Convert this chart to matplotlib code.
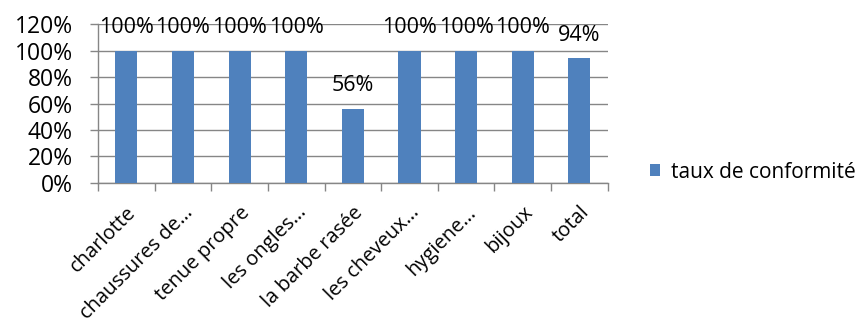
import matplotlib
matplotlib.use("Agg")
import matplotlib.pyplot as plt
import numpy as np
from matplotlib.ticker import PercentFormatter, FixedLocator

categories = ["charlotte", "chaussures de…", "tenue propre", "les ongles…",
              "la barbe rasée", "les cheveux…", "hygiene…", "bijoux", "total"]
taux = [1.00, 1.00, 1.00, 1.00, 0.56, 1.00, 1.00, 1.00, 0.94]
series_name = "taux de conformité"
y_ticks = [0, 0.2, 0.4, 0.6, 0.8, 1.0, 1.2]

plt.rcParams["font.family"] = ["Open Sans", "DejaVu Sans"]
bar_color = "#4F81BD"
grid_color = "#868686"

fig = plt.figure(figsize=(8.61, 3.25), dpi=100)
ax = fig.add_axes([0.1138, 0.437, 0.592, 0.489])

x = np.arange(len(categories))
bars = ax.bar(x, taux, width=0.39, color=bar_color, zorder=3, label=series_name)

for xi, v in zip(x, taux):
    ax.annotate(f"{v:.0%}", (xi, v), xytext=(0, 16.5), textcoords="offset points",
                ha="center", va="center", fontsize=15.5, color="black", zorder=4)

ax.set_xlim(-0.5, len(categories) - 0.5)
ax.set_ylim(0, 1.2)
ax.set_yticks(y_ticks)
ax.yaxis.set_major_formatter(PercentFormatter(1.0, decimals=0))
ax.yaxis.grid(True, color=grid_color, linewidth=1.0, zorder=0)

ax.set_xticks(x)
ax.set_xticklabels(categories, rotation=45, ha="right", va="top",
                   rotation_mode="anchor", fontsize=14.5)
ax.xaxis.set_minor_locator(FixedLocator(np.arange(-0.5, len(categories), 1.0)))
ax.tick_params(axis="x", which="major", length=0, pad=14)
ax.tick_params(axis="x", which="minor", length=6, color=grid_color, width=1)
ax.tick_params(axis="y", length=6, color=grid_color, width=1, labelsize=16.5, pad=12)

for side in ("top", "right"):
    ax.spines[side].set_visible(False)
for side in ("left", "bottom"):
    ax.spines[side].set_color(grid_color)
    ax.spines[side].set_linewidth(1.0)

fig.legend(handles=[bars], labels=[series_name], loc="center left",
           bbox_to_anchor=(0.733, 0.47), frameon=False, fontsize=15,
           handlelength=0.5, handleheight=0.5, handletextpad=0.5)

fig.savefig("out.png", dpi=100)
